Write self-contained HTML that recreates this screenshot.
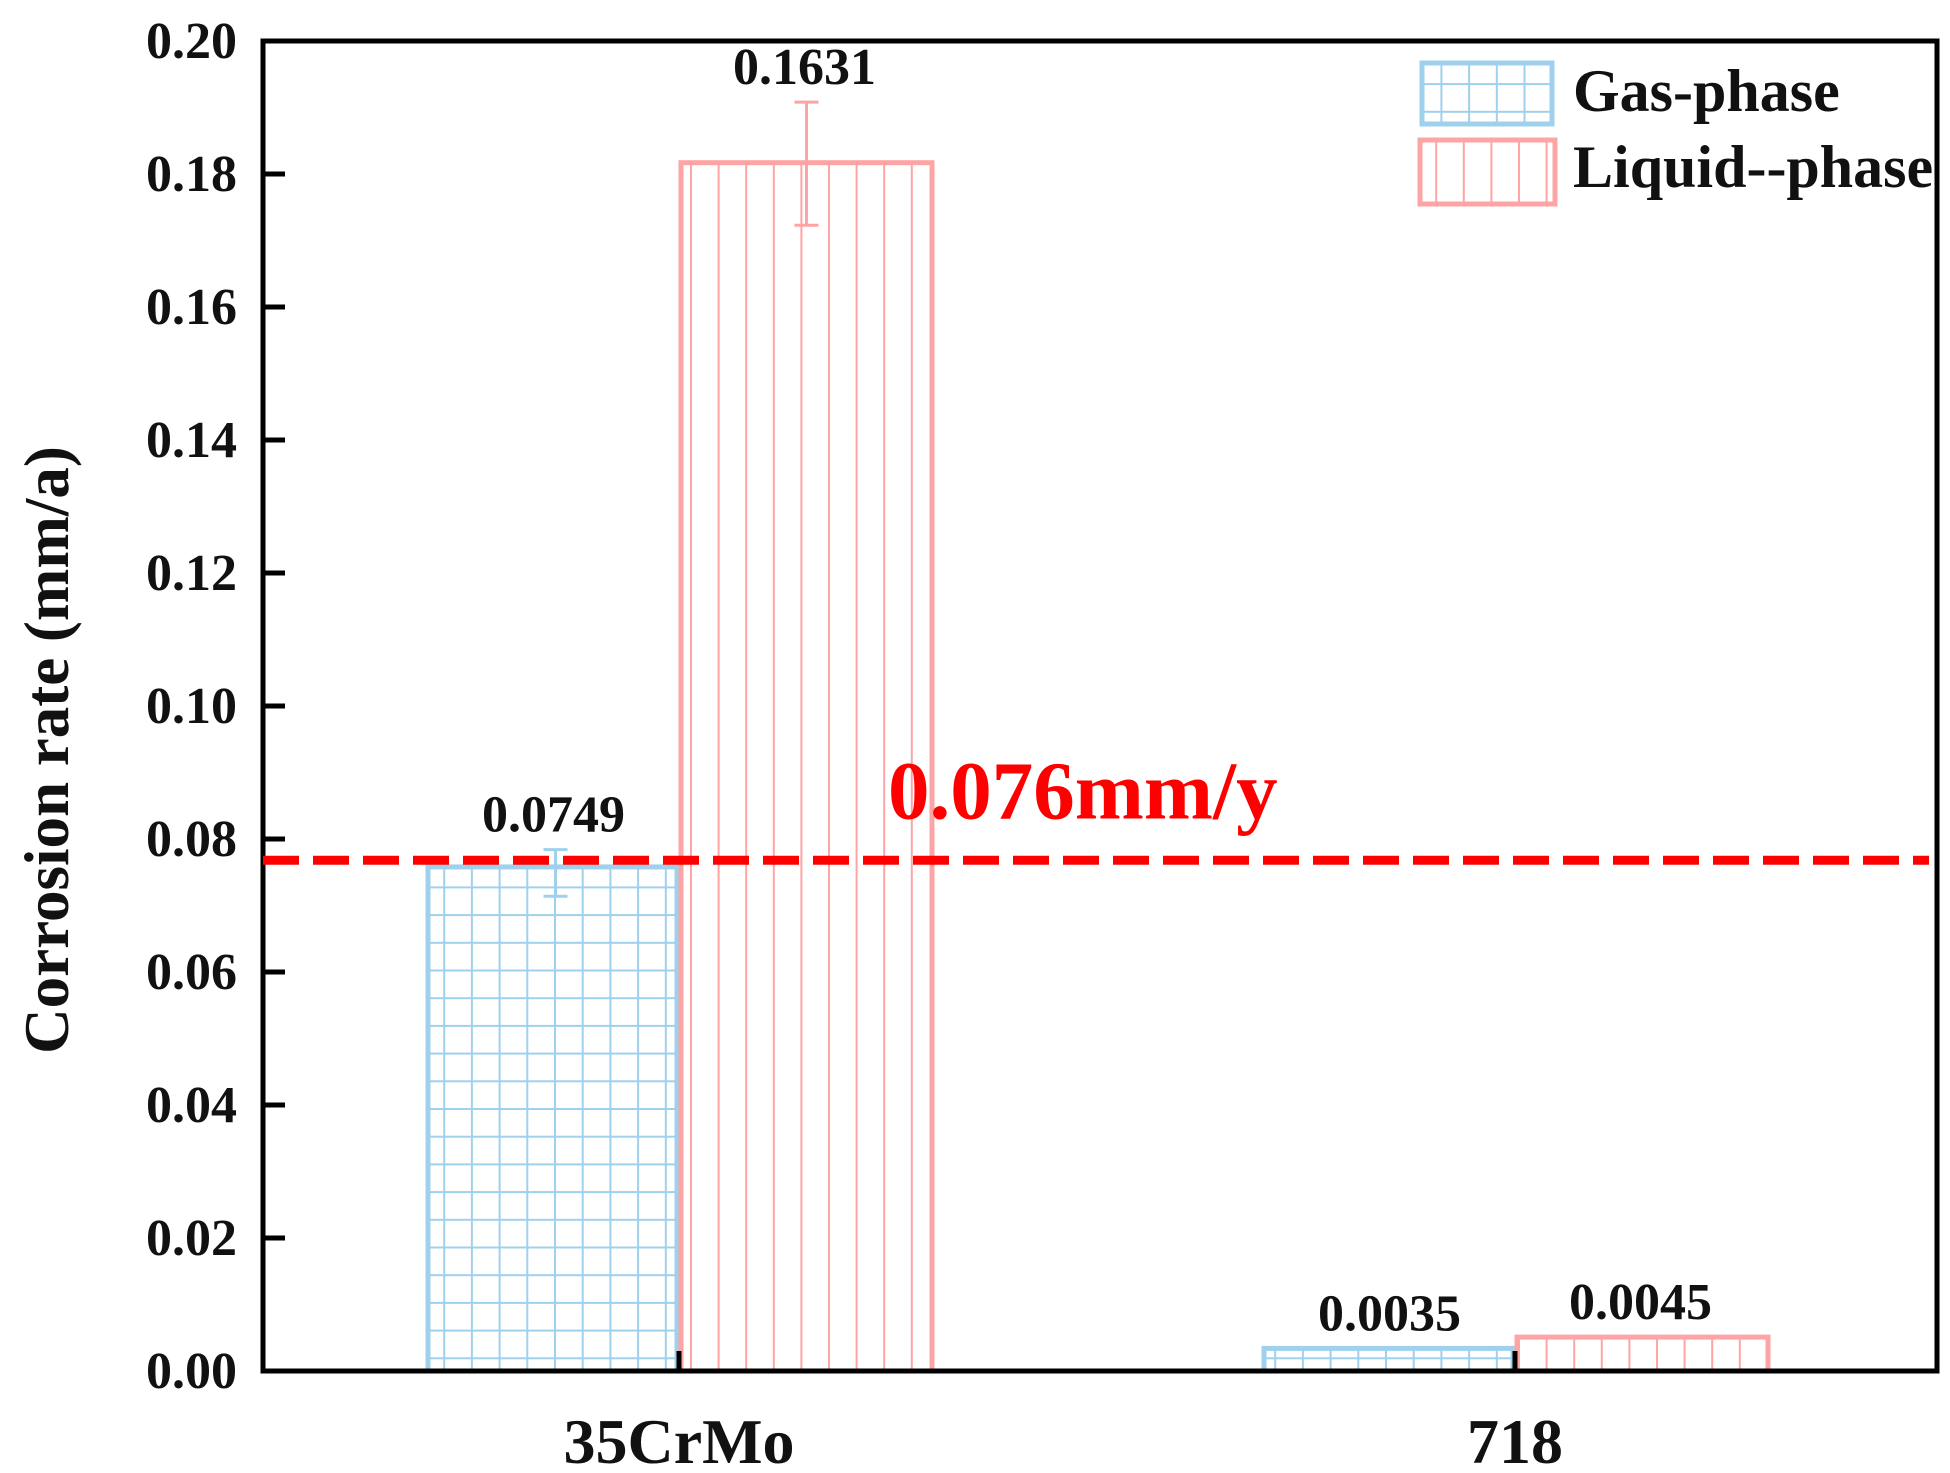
<!DOCTYPE html>
<html><head><meta charset="utf-8"><style>
html,body{margin:0;padding:0;background:#fff;}
svg{display:block;font-family:"Liberation Serif",serif;font-weight:bold;}
</style></head><body>
<svg id="chart" width="1950" height="1473" viewBox="0 0 1950 1473">
<defs>
<pattern id="gridHatch" width="27.7" height="27.7" patternUnits="userSpaceOnUse">
<path d="M0 0V27.7M0 0H27.7" stroke="#9fd0ec" stroke-width="4" fill="none"/>
</pattern>
<pattern id="vertHatch" width="27.6" height="27.6" patternUnits="userSpaceOnUse">
<path d="M0 0V27.6" stroke="#ffa4a4" stroke-width="4" fill="none"/>
</pattern>
</defs>
<g id="bars"></g>
<g id="axes"></g>
<g id="annot"></g>
</svg>
<script>
const categories = ["35CrMo", "718"];
const gasValues = [0.0758, 0.0034];
const liquidValues = [0.1817, 0.0051];
const gasLabels = ["0.0749", "0.0035"];
const liquidLabels = ["0.1631", "0.0045"];
const gasErrLow = [0.0714, null];
const gasErrHigh = [0.0784, null];
const liqErrLow = [0.1723, null];
const liqErrHigh = [0.1908, null];
const yTicks = [0, 0.02, 0.04, 0.06, 0.08, 0.10, 0.12, 0.14, 0.16, 0.18, 0.20];
const yTickLabels = ["0.00","0.02","0.04","0.06","0.08","0.10","0.12","0.14","0.16","0.18","0.20"];
const thresholdValue = 0.0768;
const thresholdLabel = "0.076mm/y";

const NS = "http://www.w3.org/2000/svg";
const L = 263, R = 1937, T = 41, B = 1371;
const catX = [679, 1515];
const barW = 251;
function y(v){ return B - (v / 0.20) * (B - T); }
function xCat(i){ return catX[i]; }
function mk(tag, attrs, parent){
  const e = document.createElementNS(NS, tag);
  for (const k in attrs) e.setAttribute(k, attrs[k]);
  parent.appendChild(e); return e;
}
const gBars = document.getElementById('bars');
const gAxes = document.getElementById('axes');
const gAnn = document.getElementById('annot');

categories.forEach((c, i) => {
  const cx = xCat(i);
  const gy = y(gasValues[i]);
  const gb = mk('rect', {x: cx - barW, y: gy, width: barW - 2, height: B - gy, fill: 'url(#gridHatch)', stroke: '#9fd0ec', 'stroke-width': 5}, gBars);
  
  
  const ly = y(liquidValues[i]);
  const lb = mk('rect', {x: cx + 2, y: ly, width: barW, height: B - ly, fill: 'url(#vertHatch)', stroke: '#ffa4a4', 'stroke-width': 5}, gBars);
  
  
  if (gasErrLow[i] !== null) {
    const ex = cx - barW / 2 + 2;
    const eb = mk('path', {d: `M${ex} ${y(gasErrLow[i])}V${y(gasErrHigh[i])}M${ex-12} ${y(gasErrHigh[i])}H${ex+12}M${ex-12} ${y(gasErrLow[i])}H${ex+12}`, stroke: '#9fd0ec', 'stroke-width': 3, fill: 'none'}, gBars);
    
    
  }
  if (liqErrLow[i] !== null) {
    const ex = cx + barW / 2 + 2;
    const eb = mk('path', {d: `M${ex} ${y(liqErrLow[i])}V${y(liqErrHigh[i])}M${ex-12} ${y(liqErrHigh[i])}H${ex+12}M${ex-12} ${y(liqErrLow[i])}H${ex+12}`, stroke: '#ffa4a4', 'stroke-width': 3, fill: 'none'}, gBars);
    
    
  }
  const gTop = gasErrHigh[i] !== null ? y(gasErrHigh[i]) : gy;
  const gl = mk('text', {x: cx - barW / 2, y: gTop - 18, 'text-anchor': 'middle', 'font-size': 52, fill: '#111'}, gAnn);
  gl.textContent = gasLabels[i];
  
  
  const lTop = liqErrHigh[i] !== null ? y(liqErrHigh[i]) : ly;
  const ll = mk('text', {x: cx + barW / 2, y: lTop - 18, 'text-anchor': 'middle', 'font-size': 52, fill: '#111'}, gAnn);
  ll.textContent = liquidLabels[i];
  
  
  const xl = mk('text', {x: cx, y: 1463, 'text-anchor': 'middle', 'font-size': 64, fill: '#111'}, gAxes);
  xl.textContent = c;
  
  
  const xt = mk('line', {x1: cx, x2: cx, y1: B, y2: B - 20, stroke: '#000', 'stroke-width': 5}, gAxes);
  
  
});

yTicks.forEach((v, i) => {
  const ty = y(v);
  if (i > 0 && i < yTicks.length - 1) {
    const tk = mk('line', {x1: L, x2: L + 22, y1: ty, y2: ty, stroke: '#000', 'stroke-width': 5}, gAxes);
    
    
  }
  const tl = mk('text', {x: 237, y: ty + 17, 'text-anchor': 'end', 'font-size': 52, fill: '#111'}, gAxes);
  tl.textContent = yTickLabels[i];
  
  
});

const frame = mk('rect', {x: L, y: T, width: R - L, height: B - T, fill: 'none', stroke: '#000', 'stroke-width': 5}, gAxes);



const yt = mk('text', {x: 0, y: 0, transform: 'translate(68,750) rotate(-90)', 'text-anchor': 'middle', 'font-size': 63, fill: '#111'}, gAxes);
yt.textContent = 'Corrosion rate (mm/a)';



const thy = y(thresholdValue);
const th = mk('line', {x1: L, x2: R - 8, y1: thy, y2: thy, stroke: '#ff0000', 'stroke-width': 9, 'stroke-dasharray': '36 14'}, gAnn);


const tt = mk('text', {x: 888, y: thy - 42, 'font-size': 83, fill: '#ff0000'}, gAnn);
tt.textContent = thresholdLabel;



const lg = mk('g', {}, gAnn);


const s1 = mk('rect', {x: 1422, y: 63, width: 130, height: 61, fill: 'url(#gridHatch)', stroke: '#9fd0ec', 'stroke-width': 5}, lg);


const t1 = mk('text', {x: 1573, y: 111, 'font-size': 60, fill: '#111'}, lg);
t1.textContent = 'Gas-phase';


const s2 = mk('rect', {x: 1420, y: 140, width: 135, height: 64, fill: 'url(#vertHatch)', stroke: '#ffa4a4', 'stroke-width': 5}, lg);


const t2 = mk('text', {x: 1573, y: 187, 'font-size': 60, fill: '#111'}, lg);
t2.textContent = 'Liquid--phase';


</script>
</body></html>
